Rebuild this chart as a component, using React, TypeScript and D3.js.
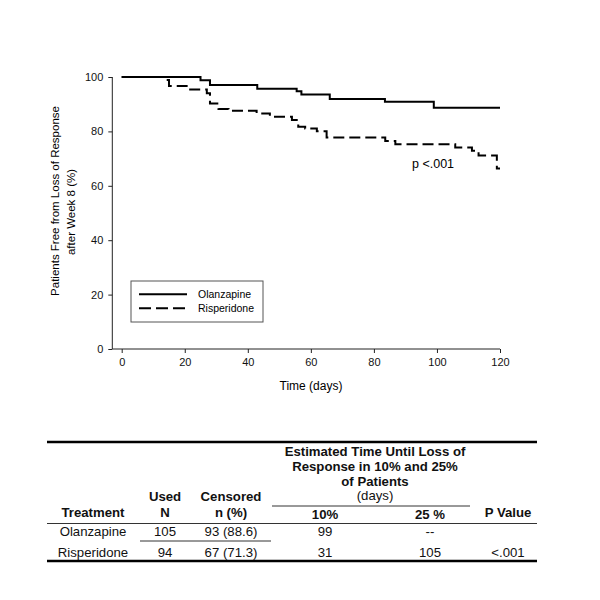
import { useEffect, useRef } from 'react';
import * as d3 from 'd3';

// Kaplan-Meier style steps
const olzDays = [0, 25, 28, 43, 55.5, 57, 66, 83.5, 99, 120];
const olzPct = [100, 98.8, 97.1, 95.7, 94.8, 93.6, 91.9, 90.9, 88.7, 88.7];

const rspDays = [0, 14, 15, 20.6, 27, 28, 30.7, 33.9, 42.8, 47, 54, 56, 58.2, 61.9, 65, 83.6, 86.8, 105.8, 111.1, 113.2, 119, 120];
const rspPct = [100, 98.9, 96.7, 95.4, 94.0, 90.3, 88.2, 87.6, 86.6, 85.4, 84.2, 81.7, 81.1, 80.1, 77.8, 76.5, 75.3, 74.1, 72.9, 71.1, 66.4, 66.4];

const xTicks = [0, 20, 40, 60, 80, 100, 120];
const yTicks = [0, 20, 40, 60, 80, 100];
const seriesNames = ['Olanzapine', 'Risperidone'];

// table
const headTitle = ['Estimated Time Until Loss of', 'Response in 10% and 25%', 'of Patients'];
const colHeads = ['Treatment', 'N', 'n (%)', '10%', '25 %', 'P Value'];
const colHeadsTop = ['', 'Used', 'Censored', '', '', ''];
const rowTreatment = ['Olanzapine', 'Risperidone'];
const rowN = ['105', '94'];
const rowCensored = ['93 (88.6)', '67 (71.3)'];
const row10 = ['99', '31'];
const row25 = ['--', '105'];
const rowP = ['', '<.001'];

type Pt = { t: number; v: number };

export default function App() {
  const svgRef = useRef<SVGSVGElement | null>(null);

  useEffect(() => {
    if (!svgRef.current) return;
    const svg = d3.select(svgRef.current);
    svg.selectAll('*').remove();
    const font = 'Arial, "Liberation Sans", sans-serif';

    svg.append('rect').attr('width', 600).attr('height', 600).attr('fill', '#fff');

    const x = d3.scaleLinear().domain([0, 120]).range([121.7, 500]);
    const y = d3.scaleLinear().domain([0, 100]).range([349, 77]);
    const axisX0 = 112.3;

    const g = svg.append('g').style('font-family', font);

    // axes lines
    g.append('line').attr('x1', axisX0).attr('x2', axisX0).attr('y1', y(100)).attr('y2', y(0))
      .attr('stroke', '#222').attr('stroke-width', 1);
    g.append('line').attr('x1', axisX0).attr('x2', x(120)).attr('y1', y(0)).attr('y2', y(0))
      .attr('stroke', '#222').attr('stroke-width', 1);

    const yAx = g.append('g').attr('transform', `translate(${axisX0},0)`)
      .call(d3.axisLeft(y).tickValues(yTicks).tickSize(4).tickPadding(5).tickSizeOuter(0));
    yAx.select('.domain').remove();
    yAx.selectAll('text').style('font-size', '11px').style('font-family', font).attr('fill', '#111');
    yAx.selectAll('line').attr('stroke', '#222');

    const xAx = g.append('g').attr('transform', `translate(0,${y(0)})`)
      .call(d3.axisBottom(x).tickValues(xTicks).tickSize(4).tickPadding(5).tickSizeOuter(0));
    xAx.select('.domain').remove();
    xAx.selectAll('text').style('font-size', '11px').style('font-family', font).attr('fill', '#111');
    xAx.selectAll('line').attr('stroke', '#222');

    // axis titles
    g.append('text').attr('x', 311).attr('y', 390).attr('text-anchor', 'middle')
      .style('font-size', '12px').text('Time (days)');
    g.append('text').attr('transform', 'translate(59,201) rotate(-90)').attr('text-anchor', 'middle')
      .style('font-size', '11.5px').text('Patients Free from Loss of Response');
    g.append('text').attr('transform', 'translate(75,212) rotate(-90)').attr('text-anchor', 'middle')
      .style('font-size', '11.5px').text('after Week 8 (%)');

    // curves
    const line = d3.line<Pt>().x((d) => x(d.t)).y((d) => y(d.v)).curve(d3.curveStepAfter);
    const olz: Pt[] = olzDays.map((t, i) => ({ t, v: olzPct[i] }));
    const rsp: Pt[] = rspDays.map((t, i) => ({ t, v: rspPct[i] }));
    g.append('path').datum(olz).attr('d', line).attr('fill', 'none').attr('stroke', '#000').attr('stroke-width', 2);
    g.append('path').datum(rsp).attr('d', line).attr('fill', 'none').attr('stroke', '#000').attr('stroke-width', 2)
      .attr('stroke-dasharray', '11,5');

    g.append('text').attr('x', 412).attr('y', 168).style('font-size', '12.5px').text('p <.001');

    // legend
    const lg = g.append('g');
    lg.append('rect').attr('x', 131).attr('y', 281).attr('width', 132).attr('height', 41)
      .attr('fill', '#fff').attr('stroke', '#555').attr('stroke-width', 1);
    seriesNames.forEach((name, i) => {
      const yy = 294.3 + i * 14;
      lg.append('line').attr('x1', 139).attr('x2', 187).attr('y1', yy).attr('y2', yy)
        .attr('stroke', '#000').attr('stroke-width', 2)
        .attr('stroke-dasharray', i === 1 ? '12,5' : null);
      lg.append('text').attr('x', 198).attr('y', yy + 4).style('font-size', '10.5px').text(name);
    });

    // table
    const t = svg.append('g').style('font-family', font).style('font-size', '13.2px').attr('fill', '#111');
    const left = 47;
    const right = 537;
    const colX = [93, 165, 231, 325, 430, 508];
    t.append('line').attr('x1', left).attr('x2', right).attr('y1', 442).attr('y2', 442).attr('stroke', '#000').attr('stroke-width', 2.5);
    t.append('line').attr('x1', left).attr('x2', right).attr('y1', 523.5).attr('y2', 523.5).attr('stroke', '#333').attr('stroke-width', 1);
    t.append('line').attr('x1', left).attr('x2', right).attr('y1', 561).attr('y2', 561).attr('stroke', '#000').attr('stroke-width', 2.5);
    t.append('line').attr('x1', 140).attr('x2', 271).attr('y1', 541).attr('y2', 541).attr('stroke', '#333').attr('stroke-width', 1);
    t.append('line').attr('x1', 272).attr('x2', 470).attr('y1', 506).attr('y2', 506).attr('stroke', '#333').attr('stroke-width', 1);

    headTitle.forEach((s, i) => {
      t.append('text').attr('x', 375).attr('y', 456 + i * 15).attr('text-anchor', 'middle')
        .style('font-weight', 'bold').text(s);
    });
    t.append('text').attr('x', 375).attr('y', 500).attr('text-anchor', 'middle').text('(days)');

    colHeadsTop.forEach((s, i) => {
      if (!s) return;
      t.append('text').attr('x', colX[i]).attr('y', 501).attr('text-anchor', 'middle').style('font-weight', 'bold').text(s);
    });
    colHeads.forEach((s, i) => {
      t.append('text').attr('x', colX[i]).attr('y', i === 3 || i === 4 ? 519 : 516.5).attr('text-anchor', 'middle').style('font-weight', 'bold').text(s);
    });

    const rows = [rowTreatment, rowN, rowCensored, row10, row25, rowP];
    rowTreatment.forEach((_, r) => {
      rows.forEach((col, c) => {
        if (!col[r]) return;
        t.append('text').attr('x', colX[c]).attr('y', 536 + r * 20.5).attr('text-anchor', 'middle').text(col[r]);
      });
    });
  }, []);

  return (
    <div style={{ position: 'absolute', left: 0, top: 0 }}>
      <svg ref={svgRef} width={600} height={600} style={{ display: 'block' }} />
    </div>
  );
}
